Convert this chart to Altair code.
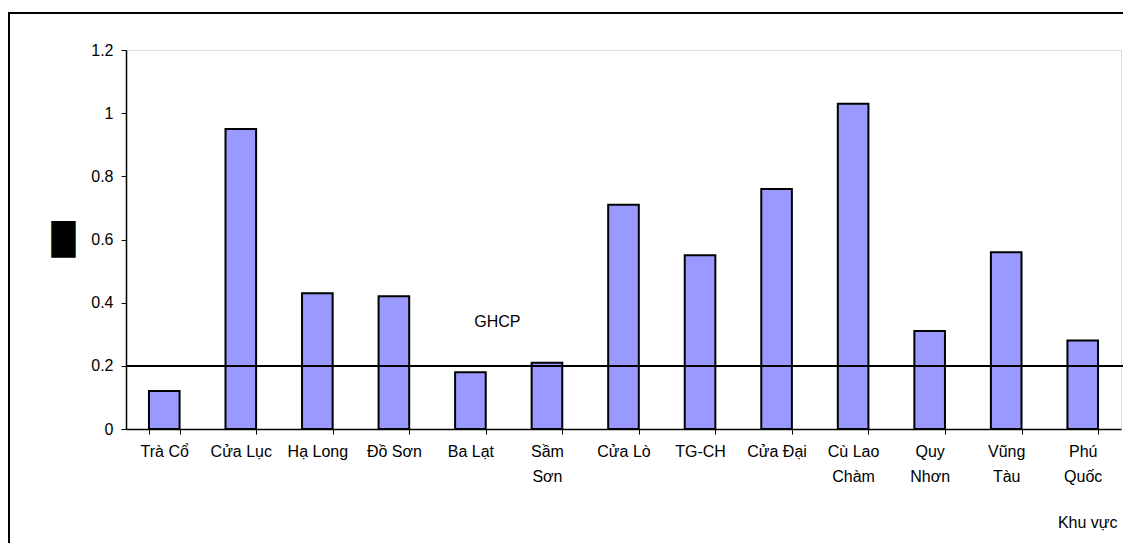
import altair as alt
import pandas as pd

categories = ["Trà Cổ", "Cửa Lục", "Hạ Long", "Đồ Sơn", "Ba Lạt", "Sầm\nSơn", "Cửa Lò",
              "TG-CH", "Cửa Đại", "Cù Lao\nChàm", "Quy\nNhơn", "Vũng\nTàu", "Phú\nQuốc"]
values = [0.12, 0.95, 0.43, 0.42, 0.18, 0.21, 0.71, 0.55, 0.76, 1.03, 0.31, 0.56, 0.28]
limit_value = 0.2
limit_label = "GHCP"
limit_label_y = 0.34
limit_label_cat = "Ba Lạt"
x_title = "Khu vực"
y_title = "█"
y_ticks = [0, 0.2, 0.4, 0.6, 0.8, 1.0, 1.2]

df = pd.DataFrame({"cat": categories, "val": values})

FONT = "Liberation Sans"
W, H = 995, 379

x_enc = alt.X("cat:N", sort=categories,
              scale=alt.Scale(paddingInner=0.6, paddingOuter=0.3),
              axis=alt.Axis(title=x_title, labelAngle=0, tickBand="extent",
                            labelExpr="split(datum.label, '\\n')",
                            labelLineHeight=25, labelFontSize=16, labelFont=FONT,
                            labelColor="black", labelPadding=9, labelBaseline="top",
                            tickSize=5, tickColor="black", domainColor="black",
                            domainWidth=1.5, tickWidth=1,
                            titleFont=FONT, titleFontSize=16, titleFontWeight="normal",
                            titleColor="black", titleAnchor="end", titleAlign="right",
                            titleX=991, titleY=93, titleBaseline="middle"))

y_enc = alt.Y("val:Q", scale=alt.Scale(domain=[0, 1.2], nice=False),
              axis=alt.Axis(title=y_title, values=y_ticks, format="~g", grid=False,
                            labelFontSize=16, labelFont=FONT, labelColor="black",
                            labelPadding=8, tickSize=5, tickColor="black",
                            domainColor="black", domainWidth=1.5,
                            titleAngle=0, titleFont="DejaVu Sans", titleFontSize=31,
                            titleFontWeight="normal", titleColor="black",
                            titleX=-63, titleY=190, titleAlign="center",
                            titleBaseline="middle"))

bars = alt.Chart(df).mark_bar(color="#9999FF", stroke="black", strokeWidth=2).encode(
    x=x_enc, y=y_enc)

rule = alt.Chart(df).mark_rule(color="black", strokeWidth=1.5).encode(
    y=alt.Y(datum=limit_value), x=alt.value(0), x2=alt.value(W + 5))

label = alt.Chart(pd.DataFrame({"cat": [limit_label_cat], "v": [limit_label_y], "t": [limit_label]})).mark_text(
    font=FONT, fontSize=16, color="black", dx=27).encode(
    x=alt.X("cat:N", sort=categories), y=alt.Y("v:Q"), text="t:N")

frame = alt.Chart(df).mark_rect(fill=None, stroke="black", strokeWidth=2, clip=False).encode(
    x=alt.value(-117), x2=alt.value(W + 200), y=alt.value(-37), y2=alt.value(H + 300))

chart = alt.layer(bars, rule, label, frame).properties(
    width=W, height=H,
    autosize=alt.AutoSizeParams(type="none"),
    padding={"left": 118, "top": 42, "right": 2, "bottom": 114},
).configure_view(stroke=None).configure(background="white")

chart.save("out.html", embed_options={"renderer": "svg", "actions": False})
